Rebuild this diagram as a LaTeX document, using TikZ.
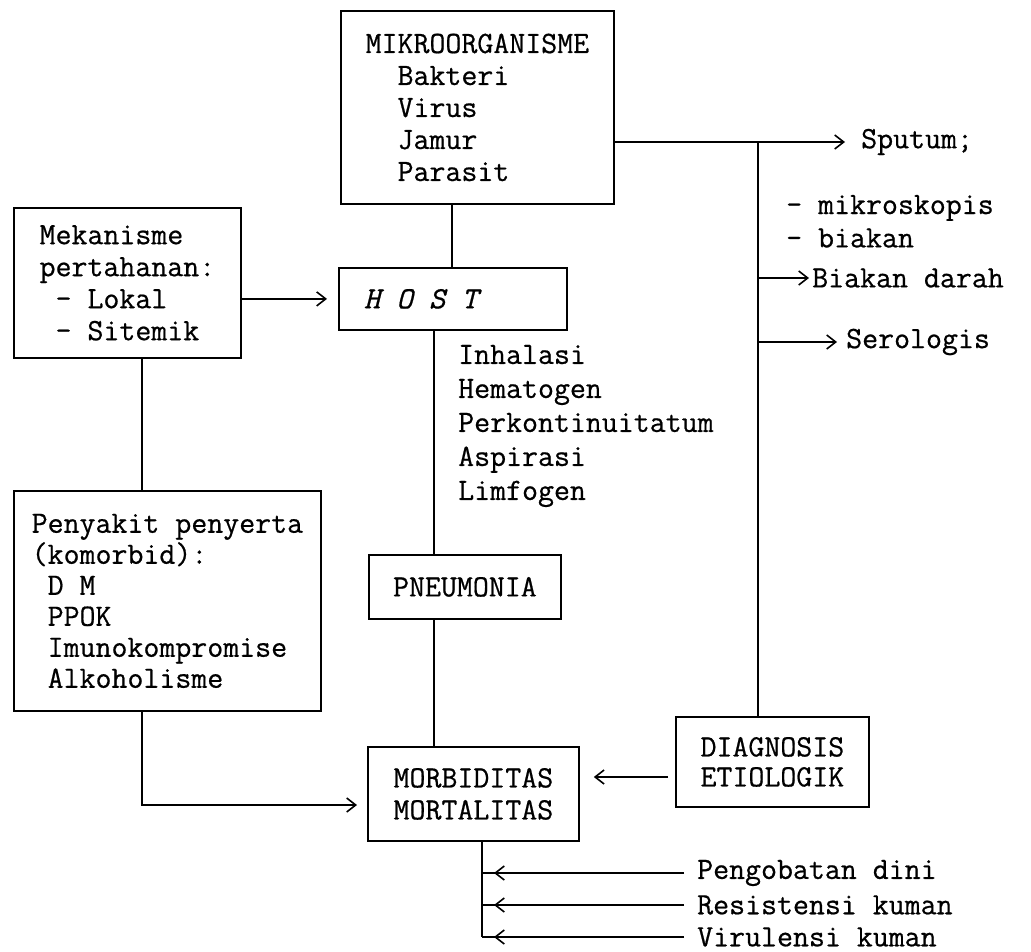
\documentclass[tikz,border=0pt]{standalone}
\usepackage{fontspec}
\setmonofont{Latin Modern Mono}[FakeBold=0.6]
\usetikzlibrary{arrows.meta}
\newcommand\tyfont{\ttfamily\fontsize{31}{32}\selectfont}
\begin{document}
\begin{tikzpicture}[x=1pt,y=-1pt,
  box/.style={draw,line width=1.8pt,inner sep=0pt,anchor=north west,align=left,font=\tyfont},
  lbl/.style={inner sep=0pt,anchor=west,align=left,font=\tyfont},
  ln/.style={line width=1.8pt},
  arr/.style={ln,-{Straight Barb[length=9pt,width=14pt,line width=1.6pt]}}]
\useasboundingbox[fill=white] (0,0) rectangle (1031,952);

% boxes
\node[box,minimum width=273pt,minimum height=193pt] (micro) at (340,10)
  {MIKROORGANISME\\\phantom{XX}Bakteri\\\phantom{XX}Virus\\\phantom{XX}Jamur\\\phantom{XX}Parasit};
\node[box,minimum width=227pt,minimum height=150pt] (mek) at (13,207)
  {Mekanisme\\pertahanan:\\\phantom{X}– Lokal\\\phantom{X}– Sitemik};
\node[box,minimum width=228pt,minimum height=62pt] (host) at (338,267)
  {\itshape H O S T\hspace*{64pt}};
\node[box,minimum width=192pt,minimum height=64pt] (pneu) at (368,554) {PNEUMONIA};
\node[box,minimum width=307pt,minimum height=220pt,font=\ttfamily\fontsize{31}{31}\selectfont] (peny) at (13,490)
  {Penyakit penyerta\\(komorbid):\\\phantom{X}D M\\\phantom{X}PPOK\\\phantom{X}Imunokompromise\\\phantom{X}Alkoholisme};
\node[box,minimum width=211pt,minimum height=94pt] (morb) at (367,746) {MORBIDITAS\\MORTALITAS};
\node[box,minimum width=193pt,minimum height=90pt,font=\ttfamily\fontsize{31}{30}\selectfont] (diag) at (675,716)
  {DIAGNOSIS\\ETIOLOGIK};

% free texts
\node[lbl,font=\ttfamily\fontsize{31}{34}\selectfont] (trans) at (458,426)
  {Inhalasi\\Hematogen\\Perkontinuitatum\\Aspirasi\\Limfogen};
\node[lbl] (sput) at (861,142) {Sputum;};
\node[lbl] (mik) at (786,208) {– mikroskopis};
\node[lbl] (bia) at (786,238) {– biakan};
\node[lbl] (bdar) at (812,278) {Biakan darah};
\node[lbl] (sero) at (846,342) {Serologis};
\node[lbl] (peng) at (697,873) {Pengobatan dini};
\node[lbl] (resi) at (697,905) {Resistensi kuman};
\node[lbl] (viru) at (697,937) {Virulensi kuman};

% helper coordinates
\coordinate (c1) at (452,0);
\coordinate (c2) at (434,0);
\coordinate (c3) at (142,0);
\coordinate (c4) at (758,142);
\coordinate (c5) at (482,0);
\coordinate (k1) at (142,805);
\coordinate (k2) at (0,777);

% connectors
\draw[ln] (micro.south -| c1) -- (host.north -| c1);
\draw[ln] (host.south -| c2) -- (pneu.north -| c2);
\draw[ln] (pneu.south -| c2) -- (morb.north -| c2);
\draw[ln] (mek.south -| c3) -- (peny.north -| c3);
\draw[arr,shorten >=10pt] (peny.south -| c3) -- (k1) -- (k1 -| morb.west);
\draw[arr,shorten >=11pt] (mek.east |- host.west) -- (host.west);

\draw[arr,shorten >=16pt] (micro.east |- c4) -- (sput.west);
\draw[ln] (c4) -- (diag.north -| c4);
\draw[arr,shorten >=3pt] (bdar.west -| c4) -- (bdar.west);
\draw[arr,shorten >=9pt] (sero.west -| c4) -- (sero.west);

\draw[arr,shorten <=7pt,shorten >=14pt] (diag.west |- k2) -- (morb.east |- k2);

\draw[ln] (morb.south -| c5) -- (viru.west -| c5);
\foreach \t in {peng,resi,viru}{
  \draw[ln,shorten >=13pt] (\t.west -| c5) -- (\t.west);
  \draw[arr,shorten <=13pt,shorten >=12pt] (\t.west) -- (\t.west -| c5);
}
\end{tikzpicture}
\end{document}
